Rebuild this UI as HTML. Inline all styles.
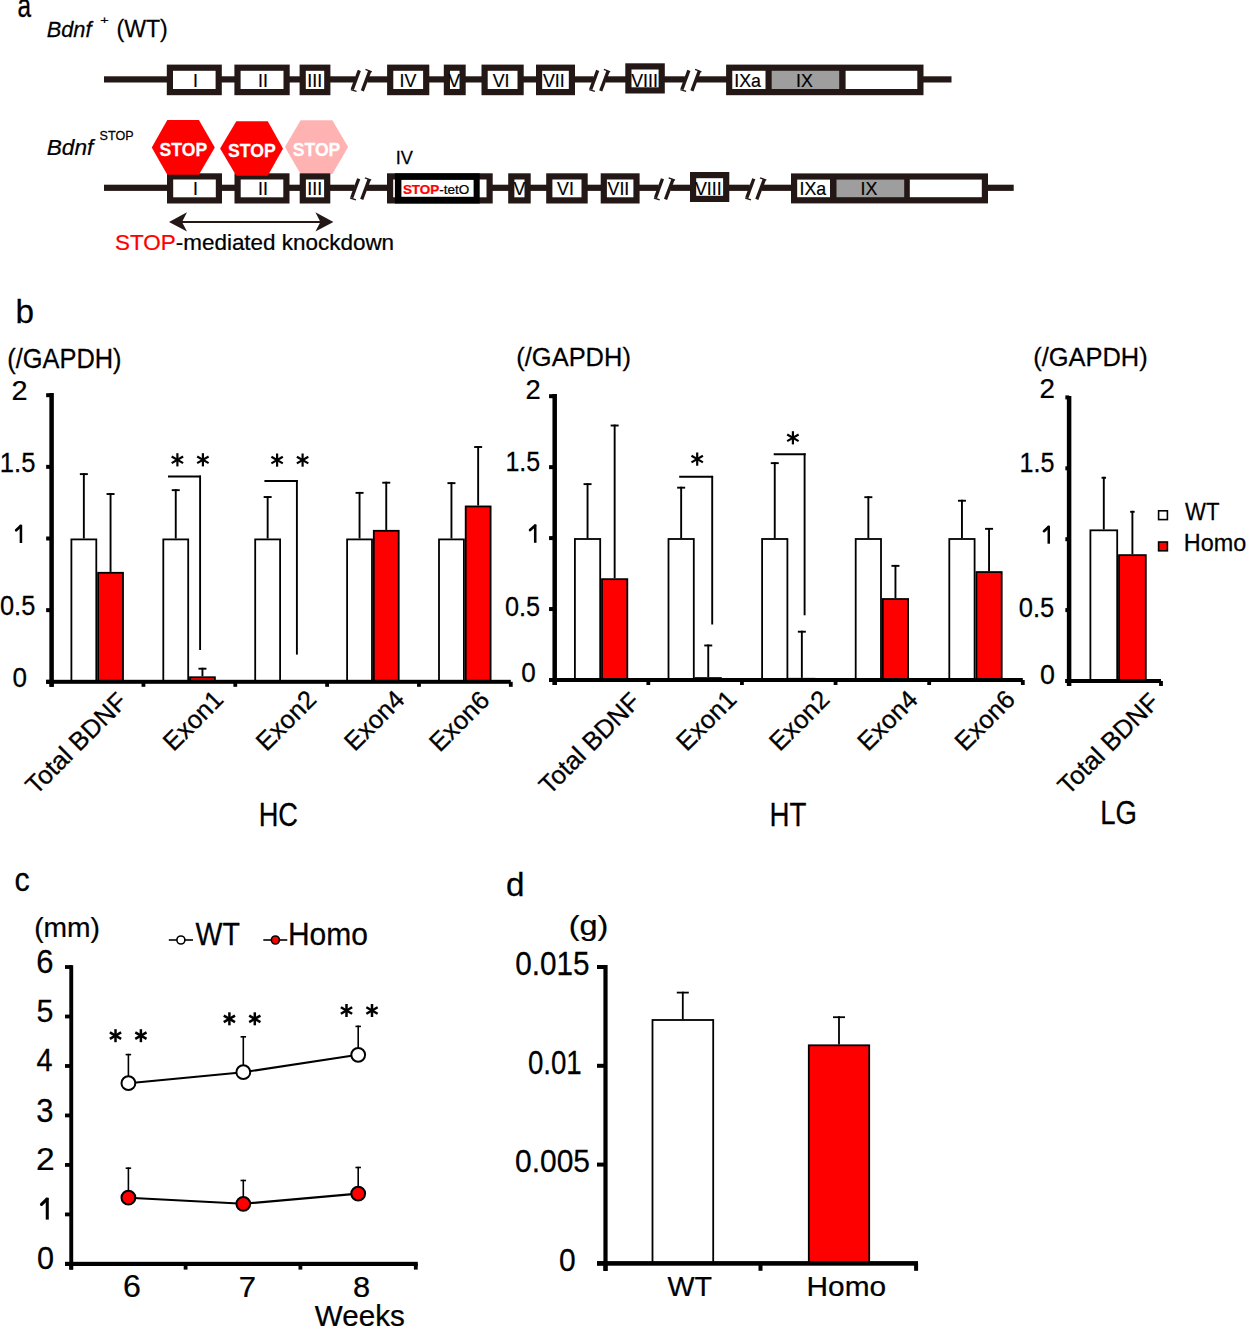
<!DOCTYPE html>
<html><head><meta charset="utf-8"><style>
html,body{margin:0;padding:0;background:#fff;}
svg{display:block;}
text{font-family:'Liberation Sans', sans-serif;}
</style></head><body>
<svg width="1246" height="1326" viewBox="0 0 1246 1326">
<rect width="1246" height="1326" fill="#fff"/>
<rect x="104" y="76.3" width="251.3" height="6.2" fill="#231815"/>
<rect x="367.3" y="76.3" width="226.4" height="6.2" fill="#231815"/>
<rect x="605.7" y="76.3" width="79.2" height="6.2" fill="#231815"/>
<rect x="696.9" y="76.3" width="254.6" height="6.2" fill="#231815"/>
<line x1="352.3" y1="89.4" x2="359.3" y2="70.4" stroke="#231815" stroke-width="3.3" stroke-linecap="butt"/>
<line x1="350.8" y1="89.6" x2="356.5" y2="91.4" stroke="#231815" stroke-width="1.4" stroke-linecap="butt"/>
<line x1="362.3" y1="90.9" x2="369.8" y2="70.9" stroke="#231815" stroke-width="3.3" stroke-linecap="butt"/>
<line x1="365.5" y1="69.4" x2="371.8" y2="71.8" stroke="#231815" stroke-width="1.4" stroke-linecap="butt"/>
<line x1="590.7" y1="89.4" x2="597.7" y2="70.4" stroke="#231815" stroke-width="3.3" stroke-linecap="butt"/>
<line x1="589.2" y1="89.6" x2="594.9" y2="91.4" stroke="#231815" stroke-width="1.4" stroke-linecap="butt"/>
<line x1="600.7" y1="90.9" x2="608.2" y2="70.9" stroke="#231815" stroke-width="3.3" stroke-linecap="butt"/>
<line x1="603.9" y1="69.4" x2="610.2" y2="71.8" stroke="#231815" stroke-width="1.4" stroke-linecap="butt"/>
<line x1="681.9" y1="89.4" x2="688.9" y2="70.4" stroke="#231815" stroke-width="3.3" stroke-linecap="butt"/>
<line x1="680.4" y1="89.6" x2="686.1" y2="91.4" stroke="#231815" stroke-width="1.4" stroke-linecap="butt"/>
<line x1="691.9" y1="90.9" x2="699.4" y2="70.9" stroke="#231815" stroke-width="3.3" stroke-linecap="butt"/>
<line x1="695.1" y1="69.4" x2="701.4" y2="71.8" stroke="#231815" stroke-width="1.4" stroke-linecap="butt"/>
<rect x="166.8" y="64.6" width="55" height="30.6" fill="#231815"/>
<rect x="173" y="70.8" width="42.6" height="18.2" fill="#fff"/>
<rect x="234.4" y="64.6" width="55.3" height="30.6" fill="#231815"/>
<rect x="240.6" y="70.8" width="42.9" height="18.2" fill="#fff"/>
<rect x="299.6" y="64.6" width="30.8" height="30.6" fill="#231815"/>
<rect x="305.8" y="70.8" width="18.4" height="18.2" fill="#fff"/>
<rect x="387.1" y="64.6" width="42.2" height="30.6" fill="#231815"/>
<rect x="393.3" y="70.8" width="29.8" height="18.2" fill="#fff"/>
<rect x="443.8" y="64.6" width="21.9" height="30.6" fill="#231815"/>
<rect x="450" y="70.8" width="9.5" height="18.2" fill="#fff"/>
<rect x="481.5" y="64.6" width="42.2" height="30.6" fill="#231815"/>
<rect x="487.7" y="70.8" width="29.8" height="18.2" fill="#fff"/>
<rect x="536" y="64.6" width="39" height="30.6" fill="#231815"/>
<rect x="542.2" y="70.8" width="26.6" height="18.2" fill="#fff"/>
<rect x="625.3" y="63.3" width="39.5" height="30.2" fill="#231815"/>
<rect x="631.5" y="69.5" width="27.1" height="17.8" fill="#fff"/>
<rect x="726.1" y="64.6" width="197.4" height="30.6" fill="#231815"/>
<rect x="732.3" y="70.8" width="33.2" height="18.2" fill="#fff"/>
<rect x="771.7" y="70.8" width="67.5" height="18.2" fill="#9e9e9e"/>
<rect x="845.6" y="70.8" width="71.7" height="18.2" fill="#fff"/>
<text x="195.4" y="86.6" font-size="17.8" text-anchor="middle" fill="#000" font-weight="normal" font-style="normal" stroke="#000" stroke-width="0.2">I</text>
<text x="263" y="86.6" font-size="17.8" text-anchor="middle" fill="#000" font-weight="normal" font-style="normal" stroke="#000" stroke-width="0.2">II</text>
<text x="314.7" y="86.6" font-size="17.8" text-anchor="middle" fill="#000" font-weight="normal" font-style="normal" stroke="#000" stroke-width="0.2">III</text>
<text x="407.9" y="86.6" font-size="17.8" text-anchor="middle" fill="#000" font-weight="normal" font-style="normal" stroke="#000" stroke-width="0.2">IV</text>
<text x="454.2" y="86.6" font-size="17.8" text-anchor="middle" fill="#000" font-weight="normal" font-style="normal" stroke="#000" stroke-width="0.2">V</text>
<text x="501.1" y="86.6" font-size="17.8" text-anchor="middle" fill="#000" font-weight="normal" font-style="normal" stroke="#000" stroke-width="0.2">VI</text>
<text x="553.8" y="86.6" font-size="17.8" text-anchor="middle" fill="#000" font-weight="normal" font-style="normal" stroke="#000" stroke-width="0.2">VII</text>
<text x="644.5" y="86.6" font-size="17.8" text-anchor="middle" fill="#000" font-weight="normal" font-style="normal" stroke="#000" stroke-width="0.2">VIII</text>
<text x="747.6" y="86.6" font-size="17.8" text-anchor="middle" fill="#000" font-weight="normal" font-style="normal" stroke="#000" stroke-width="0.2">IXa</text>
<text x="804.4" y="86.6" font-size="17.8" text-anchor="middle" fill="#000" font-weight="normal" font-style="normal" stroke="#000" stroke-width="0.2">IX</text>
<rect x="104" y="184.7" width="250.7" height="6.2" fill="#231815"/>
<rect x="366.7" y="184.7" width="291.8" height="6.2" fill="#231815"/>
<rect x="670.5" y="184.7" width="79.3" height="6.2" fill="#231815"/>
<rect x="761.8" y="184.7" width="251.9" height="6.2" fill="#231815"/>
<line x1="351.7" y1="197.8" x2="358.7" y2="178.8" stroke="#231815" stroke-width="3.3" stroke-linecap="butt"/>
<line x1="350.2" y1="198" x2="355.9" y2="199.8" stroke="#231815" stroke-width="1.4" stroke-linecap="butt"/>
<line x1="361.7" y1="199.3" x2="369.2" y2="179.3" stroke="#231815" stroke-width="3.3" stroke-linecap="butt"/>
<line x1="364.9" y1="177.8" x2="371.2" y2="180.2" stroke="#231815" stroke-width="1.4" stroke-linecap="butt"/>
<line x1="655.5" y1="197.8" x2="662.5" y2="178.8" stroke="#231815" stroke-width="3.3" stroke-linecap="butt"/>
<line x1="654" y1="198" x2="659.7" y2="199.8" stroke="#231815" stroke-width="1.4" stroke-linecap="butt"/>
<line x1="665.5" y1="199.3" x2="673" y2="179.3" stroke="#231815" stroke-width="3.3" stroke-linecap="butt"/>
<line x1="668.7" y1="177.8" x2="675" y2="180.2" stroke="#231815" stroke-width="1.4" stroke-linecap="butt"/>
<line x1="746.8" y1="197.8" x2="753.8" y2="178.8" stroke="#231815" stroke-width="3.3" stroke-linecap="butt"/>
<line x1="745.3" y1="198" x2="751" y2="199.8" stroke="#231815" stroke-width="1.4" stroke-linecap="butt"/>
<line x1="756.8" y1="199.3" x2="764.3" y2="179.3" stroke="#231815" stroke-width="3.3" stroke-linecap="butt"/>
<line x1="760" y1="177.8" x2="766.3" y2="180.2" stroke="#231815" stroke-width="1.4" stroke-linecap="butt"/>
<rect x="167" y="173.3" width="55" height="30.2" fill="#231815"/>
<rect x="173.2" y="179.5" width="42.6" height="17.8" fill="#fff"/>
<rect x="234.5" y="173.3" width="55" height="30.2" fill="#231815"/>
<rect x="240.7" y="179.5" width="42.6" height="17.8" fill="#fff"/>
<rect x="299.7" y="173.3" width="30.6" height="30.2" fill="#231815"/>
<rect x="305.9" y="179.5" width="18.2" height="17.8" fill="#fff"/>
<rect x="508.2" y="173.3" width="22.5" height="30.2" fill="#231815"/>
<rect x="514.4" y="179.5" width="10.1" height="17.8" fill="#fff"/>
<rect x="546.2" y="173.3" width="41.5" height="30.2" fill="#231815"/>
<rect x="552.4" y="179.5" width="29.1" height="17.8" fill="#fff"/>
<rect x="600.7" y="173.3" width="38.9" height="30.2" fill="#231815"/>
<rect x="606.9" y="179.5" width="26.5" height="17.8" fill="#fff"/>
<rect x="690" y="172" width="39.3" height="30" fill="#231815"/>
<rect x="696.2" y="178.2" width="26.9" height="17.6" fill="#fff"/>
<rect x="791" y="173.4" width="197" height="30" fill="#231815"/>
<rect x="797.2" y="179.6" width="32.8" height="17.6" fill="#fff"/>
<rect x="836.5" y="179.6" width="67.7" height="17.6" fill="#9e9e9e"/>
<rect x="909.8" y="179.6" width="72" height="17.6" fill="#fff"/>
<text x="195.4" y="195.1" font-size="17.8" text-anchor="middle" fill="#000" font-weight="normal" font-style="normal" stroke="#000" stroke-width="0.2">I</text>
<text x="263" y="195.1" font-size="17.8" text-anchor="middle" fill="#000" font-weight="normal" font-style="normal" stroke="#000" stroke-width="0.2">II</text>
<text x="314.7" y="195.1" font-size="17.8" text-anchor="middle" fill="#000" font-weight="normal" font-style="normal" stroke="#000" stroke-width="0.2">III</text>
<text x="519.5" y="195.1" font-size="17.8" text-anchor="middle" fill="#000" font-weight="normal" font-style="normal" stroke="#000" stroke-width="0.2">V</text>
<text x="565.5" y="195.1" font-size="17.8" text-anchor="middle" fill="#000" font-weight="normal" font-style="normal" stroke="#000" stroke-width="0.2">VI</text>
<text x="618.4" y="195.1" font-size="17.8" text-anchor="middle" fill="#000" font-weight="normal" font-style="normal" stroke="#000" stroke-width="0.2">VII</text>
<text x="708.3" y="195.1" font-size="17.8" text-anchor="middle" fill="#000" font-weight="normal" font-style="normal" stroke="#000" stroke-width="0.2">VIII</text>
<text x="812.8" y="195.1" font-size="17.8" text-anchor="middle" fill="#000" font-weight="normal" font-style="normal" stroke="#000" stroke-width="0.2">IXa</text>
<text x="869" y="195.1" font-size="17.8" text-anchor="middle" fill="#000" font-weight="normal" font-style="normal" stroke="#000" stroke-width="0.2">IX</text>
<rect x="387" y="173.3" width="105.7" height="30.2" fill="#231815"/>
<rect x="393.2" y="179.5" width="93.3" height="17.8" fill="#fff"/>
<rect x="394.9" y="173.3" width="84.8" height="30.2" fill="#000"/>
<rect x="401.4" y="179.9" width="72.2" height="16.9" fill="#fff"/>
<text x="0" y="0" font-size="60" fill="#000" stroke="#000" stroke-width="1.139" font-weight="normal" font-style="normal" transform="matrix(0.2250 0 0 0.2140 402.88 194.19)"><tspan fill="#ff0000" stroke="#ff0000" font-weight="bold">STOP</tspan>-tetO</text>
<text x="0" y="0" font-size="60" fill="#000" stroke="#000" stroke-width="0.818" font-weight="normal" font-style="normal" transform="matrix(0.3040 0 0 0.3073 395.68 163.80)">IV</text>
<polygon points="167.3,120.1 198.9,120.1 214.8,147.4 198.9,174.7 167.3,174.7 151.75,147.4" fill="#ff0000" fill-opacity="1"/>
<polygon points="236.3,121.2 267.8,121.2 283,148.4 267.8,175.7 236.3,175.7 220.1,148.4" fill="#ff0000" fill-opacity="1"/>
<polygon points="300.6,120.3 332.4,120.3 348.1,147.1 332.4,174 300.6,174 284.9,147.1" fill="#ff0000" fill-opacity="0.3"/>
<text x="0" y="0" font-size="60" fill="#fff" stroke="#fff" stroke-width="0.820" font-weight="bold" font-style="normal" transform="matrix(0.2930 0 0 0.3171 159.61 155.80)">STOP</text>
<text x="0" y="0" font-size="60" fill="#fff" stroke="#fff" stroke-width="0.842" font-weight="bold" font-style="normal" transform="matrix(0.2937 0 0 0.3000 228.11 156.60)">STOP</text>
<text x="0" y="0" font-size="60" fill="#fff" stroke="#fff" stroke-width="0.843" font-weight="bold" font-style="normal" transform="matrix(0.2930 0 0 0.3000 292.81 155.80)">STOP</text>
<line x1="180" y1="221.9" x2="322" y2="221.9" stroke="#231815" stroke-width="2" stroke-linecap="butt"/>
<path d="M169,221.9 L187,212.2 L182,221.9 L187,231.5 Z" fill="#231815"/>
<path d="M333.4,221.9 L315.4,212.2 L320.4,221.9 L315.4,231.5 Z" fill="#231815"/>
<text x="0" y="0" font-size="60" fill="#000" stroke="#000" stroke-width="0.680" font-weight="normal" font-style="normal" transform="matrix(0.3743 0 0 0.3614 115.05 250.24)"><tspan fill="#ff0000" stroke="#ff0000">STOP</tspan>-mediated knockdown</text>
<text x="0" y="0" font-size="60" fill="#000" stroke="#000" stroke-width="0.525" font-weight="normal" font-style="normal" transform="matrix(0.4067 0 0 0.5452 17.48 16.70)">a</text>
<text x="0" y="0" font-size="60" fill="#000" stroke="#000" stroke-width="0.687" font-weight="normal" font-style="italic" transform="matrix(0.3627 0 0 0.3651 46.67 36.60)">Bdnf</text>
<text x="0" y="0" font-size="60" fill="#000" stroke="#000" stroke-width="1.151" font-weight="normal" font-style="normal" transform="matrix(0.2414 0 0 0.1931 100.28 24.27)">+</text>
<text x="0" y="0" font-size="60" fill="#000" stroke="#000" stroke-width="0.642" font-weight="normal" font-style="normal" transform="matrix(0.3848 0 0 0.3945 116.46 36.97)">(WT)</text>
<text x="0" y="0" font-size="60" fill="#000" stroke="#000" stroke-width="0.663" font-weight="normal" font-style="italic" transform="matrix(0.3770 0 0 0.3767 46.75 155.10)">Bdnf</text>
<text x="0" y="0" font-size="60" fill="#000" stroke="#000" stroke-width="1.165" font-weight="normal" font-style="normal" transform="matrix(0.2096 0 0 0.2195 99.57 139.50)">STOP</text>
<line x1="83.85" y1="473.16" x2="83.85" y2="538.5" stroke="#000" stroke-width="1.9" stroke-linecap="butt"/>
<line x1="79.85" y1="474.11" x2="87.85" y2="474.11" stroke="#000" stroke-width="1.9" stroke-linecap="butt"/>
<line x1="110.55" y1="493.07" x2="110.55" y2="571.89" stroke="#000" stroke-width="1.9" stroke-linecap="butt"/>
<line x1="106.55" y1="494.02" x2="114.55" y2="494.02" stroke="#000" stroke-width="1.9" stroke-linecap="butt"/>
<rect x="71.4" y="539.4" width="24.9" height="142.4" fill="#fff" stroke="#000" stroke-width="1.8"/>
<rect x="98.1" y="572.79" width="24.9" height="109.01" fill="#ff0000" stroke="#000" stroke-width="1.8"/>
<line x1="175.75" y1="489.2" x2="175.75" y2="538.5" stroke="#000" stroke-width="1.9" stroke-linecap="butt"/>
<line x1="171.75" y1="490.15" x2="179.75" y2="490.15" stroke="#000" stroke-width="1.9" stroke-linecap="butt"/>
<line x1="202.45" y1="667.76" x2="202.45" y2="676.35" stroke="#000" stroke-width="1.9" stroke-linecap="butt"/>
<line x1="198.45" y1="668.71" x2="206.45" y2="668.71" stroke="#000" stroke-width="1.9" stroke-linecap="butt"/>
<rect x="163.3" y="539.4" width="24.9" height="142.4" fill="#fff" stroke="#000" stroke-width="1.8"/>
<rect x="190" y="677.25" width="24.9" height="4.55" fill="#ff0000" stroke="#000" stroke-width="1.8"/>
<line x1="267.65" y1="496.08" x2="267.65" y2="538.5" stroke="#000" stroke-width="1.9" stroke-linecap="butt"/>
<line x1="263.65" y1="497.03" x2="271.65" y2="497.03" stroke="#000" stroke-width="1.9" stroke-linecap="butt"/>
<rect x="255.2" y="539.4" width="24.9" height="142.4" fill="#fff" stroke="#000" stroke-width="1.8"/>
<line x1="359.55" y1="491.93" x2="359.55" y2="538.5" stroke="#000" stroke-width="1.9" stroke-linecap="butt"/>
<line x1="355.55" y1="492.88" x2="363.55" y2="492.88" stroke="#000" stroke-width="1.9" stroke-linecap="butt"/>
<line x1="386.25" y1="481.75" x2="386.25" y2="529.9" stroke="#000" stroke-width="1.9" stroke-linecap="butt"/>
<line x1="382.25" y1="482.7" x2="390.25" y2="482.7" stroke="#000" stroke-width="1.9" stroke-linecap="butt"/>
<rect x="347.1" y="539.4" width="24.9" height="142.4" fill="#fff" stroke="#000" stroke-width="1.8"/>
<rect x="373.8" y="530.8" width="24.9" height="151" fill="#ff0000" stroke="#000" stroke-width="1.8"/>
<line x1="451.45" y1="482.18" x2="451.45" y2="538.5" stroke="#000" stroke-width="1.9" stroke-linecap="butt"/>
<line x1="447.45" y1="483.13" x2="455.45" y2="483.13" stroke="#000" stroke-width="1.9" stroke-linecap="butt"/>
<line x1="478.15" y1="446.07" x2="478.15" y2="505.54" stroke="#000" stroke-width="1.9" stroke-linecap="butt"/>
<line x1="474.15" y1="447.02" x2="482.15" y2="447.02" stroke="#000" stroke-width="1.9" stroke-linecap="butt"/>
<rect x="439" y="539.4" width="24.9" height="142.4" fill="#fff" stroke="#000" stroke-width="1.8"/>
<rect x="465.7" y="506.44" width="24.9" height="175.36" fill="#ff0000" stroke="#000" stroke-width="1.8"/>
<rect x="49.35" y="393" width="4.5" height="293.8" fill="#000"/>
<rect x="46.15" y="679.8" width="5.45" height="4" fill="#000"/>
<rect x="46.15" y="608.15" width="5.45" height="4" fill="#000"/>
<rect x="46.15" y="536.5" width="5.45" height="4" fill="#000"/>
<rect x="46.15" y="464.85" width="5.45" height="4" fill="#000"/>
<rect x="46.15" y="393.2" width="5.45" height="4" fill="#000"/>
<rect x="46.15" y="679.8" width="464.65" height="4" fill="#000"/>
<rect x="49.7" y="681.8" width="3.8" height="5" fill="#000"/>
<rect x="141.54" y="681.8" width="3.8" height="5" fill="#000"/>
<rect x="233.38" y="681.8" width="3.8" height="5" fill="#000"/>
<rect x="325.22" y="681.8" width="3.8" height="5" fill="#000"/>
<rect x="417.06" y="681.8" width="3.8" height="5" fill="#000"/>
<rect x="508.9" y="681.8" width="3.8" height="5" fill="#000"/>
<line x1="168" y1="476.5" x2="201" y2="476.5" stroke="#000" stroke-width="1.9" stroke-linecap="butt"/>
<line x1="200.1" y1="475.6" x2="200.1" y2="650" stroke="#000" stroke-width="1.9" stroke-linecap="butt"/>
<line x1="264.4" y1="481" x2="297.8" y2="481" stroke="#000" stroke-width="1.9" stroke-linecap="butt"/>
<line x1="296.9" y1="480.1" x2="296.9" y2="654.6" stroke="#000" stroke-width="1.9" stroke-linecap="butt"/>
<line x1="177.4" y1="453.2" x2="177.4" y2="466.4" stroke="#000" stroke-width="2.2" stroke-linecap="butt"/>
<line x1="171.68" y1="456.5" x2="183.12" y2="463.1" stroke="#000" stroke-width="2.2" stroke-linecap="butt"/>
<line x1="171.68" y1="463.1" x2="183.12" y2="456.5" stroke="#000" stroke-width="2.2" stroke-linecap="butt"/>
<line x1="202.9" y1="453.2" x2="202.9" y2="466.4" stroke="#000" stroke-width="2.2" stroke-linecap="butt"/>
<line x1="197.18" y1="456.5" x2="208.62" y2="463.1" stroke="#000" stroke-width="2.2" stroke-linecap="butt"/>
<line x1="197.18" y1="463.1" x2="208.62" y2="456.5" stroke="#000" stroke-width="2.2" stroke-linecap="butt"/>
<line x1="277.1" y1="453.5" x2="277.1" y2="466.7" stroke="#000" stroke-width="2.2" stroke-linecap="butt"/>
<line x1="271.38" y1="456.8" x2="282.82" y2="463.4" stroke="#000" stroke-width="2.2" stroke-linecap="butt"/>
<line x1="271.38" y1="463.4" x2="282.82" y2="456.8" stroke="#000" stroke-width="2.2" stroke-linecap="butt"/>
<line x1="302.6" y1="453.5" x2="302.6" y2="466.7" stroke="#000" stroke-width="2.2" stroke-linecap="butt"/>
<line x1="296.88" y1="456.8" x2="308.32" y2="463.4" stroke="#000" stroke-width="2.2" stroke-linecap="butt"/>
<line x1="296.88" y1="463.4" x2="308.32" y2="456.8" stroke="#000" stroke-width="2.2" stroke-linecap="butt"/>
<line x1="587.55" y1="483.18" x2="587.55" y2="538.1" stroke="#000" stroke-width="1.9" stroke-linecap="butt"/>
<line x1="583.55" y1="484.13" x2="591.55" y2="484.13" stroke="#000" stroke-width="1.9" stroke-linecap="butt"/>
<line x1="614.65" y1="424.58" x2="614.65" y2="578.26" stroke="#000" stroke-width="1.9" stroke-linecap="butt"/>
<line x1="610.65" y1="425.53" x2="618.65" y2="425.53" stroke="#000" stroke-width="1.9" stroke-linecap="butt"/>
<rect x="574.9" y="539" width="25.3" height="141" fill="#fff" stroke="#000" stroke-width="1.8"/>
<rect x="602" y="579.16" width="25.3" height="100.84" fill="#ff0000" stroke="#000" stroke-width="1.8"/>
<line x1="681.15" y1="486.73" x2="681.15" y2="538.1" stroke="#000" stroke-width="1.9" stroke-linecap="butt"/>
<line x1="677.15" y1="487.68" x2="685.15" y2="487.68" stroke="#000" stroke-width="1.9" stroke-linecap="butt"/>
<line x1="708.25" y1="644.52" x2="708.25" y2="677.16" stroke="#000" stroke-width="1.9" stroke-linecap="butt"/>
<line x1="704.25" y1="645.48" x2="712.25" y2="645.48" stroke="#000" stroke-width="1.9" stroke-linecap="butt"/>
<rect x="668.5" y="539" width="25.3" height="141" fill="#fff" stroke="#000" stroke-width="1.8"/>
<rect x="695.6" y="678.06" width="25.3" height="1.94" fill="#ff0000" stroke="#000" stroke-width="1.8"/>
<line x1="774.75" y1="462.18" x2="774.75" y2="538.1" stroke="#000" stroke-width="1.9" stroke-linecap="butt"/>
<line x1="770.75" y1="463.13" x2="778.75" y2="463.13" stroke="#000" stroke-width="1.9" stroke-linecap="butt"/>
<line x1="801.85" y1="630.76" x2="801.85" y2="677.87" stroke="#000" stroke-width="1.9" stroke-linecap="butt"/>
<line x1="797.85" y1="631.71" x2="805.85" y2="631.71" stroke="#000" stroke-width="1.9" stroke-linecap="butt"/>
<rect x="762.1" y="539" width="25.3" height="141" fill="#fff" stroke="#000" stroke-width="1.8"/>
<rect x="789.2" y="678.77" width="25.3" height="1.23" fill="#ff0000" stroke="#000" stroke-width="1.8"/>
<line x1="868.35" y1="496.24" x2="868.35" y2="538.1" stroke="#000" stroke-width="1.9" stroke-linecap="butt"/>
<line x1="864.35" y1="497.19" x2="872.35" y2="497.19" stroke="#000" stroke-width="1.9" stroke-linecap="butt"/>
<line x1="895.45" y1="564.92" x2="895.45" y2="598.12" stroke="#000" stroke-width="1.9" stroke-linecap="butt"/>
<line x1="891.45" y1="565.87" x2="899.45" y2="565.87" stroke="#000" stroke-width="1.9" stroke-linecap="butt"/>
<rect x="855.7" y="539" width="25.3" height="141" fill="#fff" stroke="#000" stroke-width="1.8"/>
<rect x="882.8" y="599.02" width="25.3" height="80.98" fill="#ff0000" stroke="#000" stroke-width="1.8"/>
<line x1="961.95" y1="499.79" x2="961.95" y2="538.1" stroke="#000" stroke-width="1.9" stroke-linecap="butt"/>
<line x1="957.95" y1="500.74" x2="965.95" y2="500.74" stroke="#000" stroke-width="1.9" stroke-linecap="butt"/>
<line x1="989.05" y1="527.88" x2="989.05" y2="571.16" stroke="#000" stroke-width="1.9" stroke-linecap="butt"/>
<line x1="985.05" y1="528.83" x2="993.05" y2="528.83" stroke="#000" stroke-width="1.9" stroke-linecap="butt"/>
<rect x="949.3" y="539" width="25.3" height="141" fill="#fff" stroke="#000" stroke-width="1.8"/>
<rect x="976.4" y="572.06" width="25.3" height="107.94" fill="#ff0000" stroke="#000" stroke-width="1.8"/>
<rect x="552.45" y="394" width="4.5" height="291" fill="#000"/>
<rect x="549.05" y="678" width="5.65" height="4" fill="#000"/>
<rect x="549.05" y="607.05" width="5.65" height="4" fill="#000"/>
<rect x="549.05" y="536.1" width="5.65" height="4" fill="#000"/>
<rect x="549.05" y="465.15" width="5.65" height="4" fill="#000"/>
<rect x="549.05" y="394.2" width="5.65" height="4" fill="#000"/>
<rect x="549.05" y="678" width="473.75" height="4" fill="#000"/>
<rect x="552.8" y="680" width="3.8" height="5" fill="#000"/>
<rect x="646.42" y="680" width="3.8" height="5" fill="#000"/>
<rect x="740.04" y="680" width="3.8" height="5" fill="#000"/>
<rect x="833.66" y="680" width="3.8" height="5" fill="#000"/>
<rect x="927.28" y="680" width="3.8" height="5" fill="#000"/>
<rect x="1020.9" y="680" width="3.8" height="5" fill="#000"/>
<line x1="679.2" y1="476.8" x2="713.1" y2="476.8" stroke="#000" stroke-width="1.9" stroke-linecap="butt"/>
<line x1="712.2" y1="475.9" x2="712.2" y2="624.5" stroke="#000" stroke-width="1.9" stroke-linecap="butt"/>
<line x1="773.7" y1="454.2" x2="805.6" y2="454.2" stroke="#000" stroke-width="1.9" stroke-linecap="butt"/>
<line x1="804.6" y1="453.3" x2="804.6" y2="615.3" stroke="#000" stroke-width="1.9" stroke-linecap="butt"/>
<line x1="697.2" y1="452.5" x2="697.2" y2="465.7" stroke="#000" stroke-width="2.2" stroke-linecap="butt"/>
<line x1="691.48" y1="455.8" x2="702.92" y2="462.4" stroke="#000" stroke-width="2.2" stroke-linecap="butt"/>
<line x1="691.48" y1="462.4" x2="702.92" y2="455.8" stroke="#000" stroke-width="2.2" stroke-linecap="butt"/>
<line x1="792.9" y1="431.2" x2="792.9" y2="444.4" stroke="#000" stroke-width="2.2" stroke-linecap="butt"/>
<line x1="787.18" y1="434.5" x2="798.62" y2="441.1" stroke="#000" stroke-width="2.2" stroke-linecap="butt"/>
<line x1="787.18" y1="441.1" x2="798.62" y2="434.5" stroke="#000" stroke-width="2.2" stroke-linecap="butt"/>
<line x1="1103.8" y1="476.81" x2="1103.8" y2="529.42" stroke="#000" stroke-width="1.9" stroke-linecap="butt"/>
<line x1="1101.55" y1="477.76" x2="1106.05" y2="477.76" stroke="#000" stroke-width="1.9" stroke-linecap="butt"/>
<line x1="1132.4" y1="510.84" x2="1132.4" y2="554.23" stroke="#000" stroke-width="1.9" stroke-linecap="butt"/>
<line x1="1130.15" y1="511.79" x2="1134.65" y2="511.79" stroke="#000" stroke-width="1.9" stroke-linecap="butt"/>
<rect x="1090.4" y="530.32" width="26.8" height="150.68" fill="#fff" stroke="#000" stroke-width="1.8"/>
<rect x="1119" y="555.13" width="26.8" height="125.87" fill="#ff0000" stroke="#000" stroke-width="1.8"/>
<rect x="1066.85" y="396" width="4.5" height="290" fill="#000"/>
<rect x="1065.35" y="679" width="3.75" height="4" fill="#000"/>
<rect x="1065.35" y="608.1" width="3.75" height="4" fill="#000"/>
<rect x="1065.35" y="537.2" width="3.75" height="4" fill="#000"/>
<rect x="1065.35" y="466.3" width="3.75" height="4" fill="#000"/>
<rect x="1065.35" y="395.4" width="3.75" height="4" fill="#000"/>
<rect x="1065.35" y="679" width="95.65" height="4" fill="#000"/>
<rect x="1067.2" y="681" width="3.8" height="5" fill="#000"/>
<rect x="1159.1" y="681" width="3.8" height="5" fill="#000"/>
<text x="0" y="0" font-size="60" fill="#000" stroke="#000" stroke-width="0.535" font-weight="normal" font-style="normal" transform="matrix(0.4815 0 0 0.4537 11.56 399.90)">2</text>
<text x="0" y="0" font-size="60" fill="#000" stroke="#000" stroke-width="0.564" font-weight="normal" font-style="normal" transform="matrix(0.4276 0 0 0.4585 -0.24 471.80)">1.5</text>
<line x1="20.93" y1="524.8" x2="20.93" y2="543" stroke="#000" stroke-width="2.55"/>
<line x1="20.67" y1="525.95" x2="16.17" y2="530.26" stroke="#000" stroke-width="2.68" stroke-linecap="round"/>
<text x="0" y="0" font-size="60" fill="#000" stroke="#000" stroke-width="0.567" font-weight="normal" font-style="normal" transform="matrix(0.4241 0 0 0.4585 -0.05 615.20)">0.5</text>
<text x="0" y="0" font-size="60" fill="#000" stroke="#000" stroke-width="0.560" font-weight="normal" font-style="normal" transform="matrix(0.4345 0 0 0.4585 12.53 686.80)">0</text>
<text x="0" y="0" font-size="60" fill="#000" stroke="#000" stroke-width="0.551" font-weight="normal" font-style="normal" transform="matrix(0.4556 0 0 0.4512 525.53 398.60)">2</text>
<text x="0" y="0" font-size="60" fill="#000" stroke="#000" stroke-width="0.571" font-weight="normal" font-style="normal" transform="matrix(0.4171 0 0 0.4585 505.41 470.80)">1.5</text>
<line x1="535.22" y1="524.5" x2="535.22" y2="542.8" stroke="#000" stroke-width="2.56"/>
<line x1="534.96" y1="525.65" x2="530.08" y2="529.99" stroke="#000" stroke-width="2.69" stroke-linecap="round"/>
<text x="0" y="0" font-size="60" fill="#000" stroke="#000" stroke-width="0.571" font-weight="normal" font-style="normal" transform="matrix(0.4215 0 0 0.4537 504.96 616.20)">0.5</text>
<text x="0" y="0" font-size="60" fill="#000" stroke="#000" stroke-width="0.563" font-weight="normal" font-style="normal" transform="matrix(0.4345 0 0 0.4537 521.13 682.20)">0</text>
<text x="0" y="0" font-size="60" fill="#000" stroke="#000" stroke-width="0.545" font-weight="normal" font-style="normal" transform="matrix(0.4630 0 0 0.4537 1039.51 397.60)">2</text>
<text x="0" y="0" font-size="60" fill="#000" stroke="#000" stroke-width="0.572" font-weight="normal" font-style="normal" transform="matrix(0.4197 0 0 0.4537 1019.40 471.60)">1.5</text>
<line x1="1048.75" y1="525.8" x2="1048.75" y2="543.7" stroke="#000" stroke-width="2.51"/>
<line x1="1048.5" y1="526.93" x2="1043.95" y2="531.17" stroke="#000" stroke-width="2.63" stroke-linecap="round"/>
<text x="0" y="0" font-size="60" fill="#000" stroke="#000" stroke-width="0.568" font-weight="normal" font-style="normal" transform="matrix(0.4266 0 0 0.4537 1018.75 617.40)">0.5</text>
<text x="0" y="0" font-size="60" fill="#000" stroke="#000" stroke-width="0.554" font-weight="normal" font-style="normal" transform="matrix(0.4483 0 0 0.4537 1039.90 684.10)">0</text>
<text x="0" y="0" font-size="60" fill="#000" stroke="#000" stroke-width="0.574" font-weight="normal" font-style="normal" transform="matrix(0.4240 0 0 0.4473 7.20 367.53)">(/GAPDH)</text>
<text x="0" y="0" font-size="60" fill="#000" stroke="#000" stroke-width="0.577" font-weight="normal" font-style="normal" transform="matrix(0.4244 0 0 0.4418 516.30 365.80)">(/GAPDH)</text>
<text x="0" y="0" font-size="60" fill="#000" stroke="#000" stroke-width="0.577" font-weight="normal" font-style="normal" transform="matrix(0.4240 0 0 0.4418 1033.20 365.80)">(/GAPDH)</text>
<text x="0" y="0" font-size="60" fill="#000" stroke="#000" stroke-width="0.447" font-weight="normal" font-style="normal" transform="matrix(0.5556 0 0 0.5628 15.58 323.20)">b</text>
<rect x="1158.6" y="510.8" width="8.8" height="8.8" fill="#fff" stroke="#000" stroke-width="1.6"/>
<rect x="1158.6" y="542" width="8.8" height="8.8" fill="#ff0000" stroke="#000" stroke-width="1.6"/>
<text x="0" y="0" font-size="60" fill="#000" stroke="#000" stroke-width="0.655" font-weight="normal" font-style="normal" transform="matrix(0.3685 0 0 0.3951 1185.10 520.30)">WT</text>
<text x="0" y="0" font-size="60" fill="#000" stroke="#000" stroke-width="0.641" font-weight="normal" font-style="normal" transform="matrix(0.3902 0 0 0.3902 1183.85 550.90)">Homo</text>
<text x="0" y="0" font-size="25.6" text-anchor="end" stroke="#000" stroke-width="0.3" transform="translate(128.6,703.3) rotate(-45)">Total BDNF</text>
<text x="0" y="0" font-size="25.6" text-anchor="end" stroke="#000" stroke-width="0.3" transform="translate(224.9,701) rotate(-45)">Exon1</text>
<text x="0" y="0" font-size="25.6" text-anchor="end" stroke="#000" stroke-width="0.3" transform="translate(317.8,701) rotate(-45)">Exon2</text>
<text x="0" y="0" font-size="25.6" text-anchor="end" stroke="#000" stroke-width="0.3" transform="translate(406,701) rotate(-45)">Exon4</text>
<text x="0" y="0" font-size="25.6" text-anchor="end" stroke="#000" stroke-width="0.3" transform="translate(491,701.8) rotate(-45)">Exon6</text>
<text x="0" y="0" font-size="25.6" text-anchor="end" stroke="#000" stroke-width="0.3" transform="translate(641.9,703.3) rotate(-45)">Total BDNF</text>
<text x="0" y="0" font-size="25.6" text-anchor="end" stroke="#000" stroke-width="0.3" transform="translate(738,701) rotate(-45)">Exon1</text>
<text x="0" y="0" font-size="25.6" text-anchor="end" stroke="#000" stroke-width="0.3" transform="translate(831.1,701) rotate(-45)">Exon2</text>
<text x="0" y="0" font-size="25.6" text-anchor="end" stroke="#000" stroke-width="0.3" transform="translate(919.3,701) rotate(-45)">Exon4</text>
<text x="0" y="0" font-size="25.6" text-anchor="end" stroke="#000" stroke-width="0.3" transform="translate(1016.5,701) rotate(-45)">Exon6</text>
<text x="0" y="0" font-size="25.6" text-anchor="end" stroke="#000" stroke-width="0.3" transform="translate(1160.7,703.6) rotate(-45)">Total BDNF</text>
<text x="0" y="0" font-size="60" fill="#000" stroke="#000" stroke-width="0.495" font-weight="normal" font-style="normal" transform="matrix(0.4544 0 0 0.5561 258.63 825.60)">HC</text>
<text x="0" y="0" font-size="60" fill="#000" stroke="#000" stroke-width="0.490" font-weight="normal" font-style="normal" transform="matrix(0.4622 0 0 0.5585 769.49 825.90)">HT</text>
<text x="0" y="0" font-size="60" fill="#000" stroke="#000" stroke-width="0.493" font-weight="normal" font-style="normal" transform="matrix(0.4586 0 0 0.5561 1100.21 823.50)">LG</text>
<text x="0" y="0" font-size="60" fill="#000" stroke="#000" stroke-width="0.472" font-weight="normal" font-style="normal" transform="matrix(0.5080 0 0 0.5516 14.58 891.20)">c</text>
<text x="0" y="0" font-size="60" fill="#000" stroke="#000" stroke-width="0.543" font-weight="normal" font-style="normal" transform="matrix(0.4705 0 0 0.4509 34.22 937.09)">(mm)</text>
<line x1="128.4" y1="1053.8" x2="128.4" y2="1083.2" stroke="#000" stroke-width="1.6" stroke-linecap="butt"/>
<line x1="125.65" y1="1054.6" x2="131.15" y2="1054.6" stroke="#000" stroke-width="1.6" stroke-linecap="butt"/>
<line x1="128.4" y1="1167.4" x2="128.4" y2="1197.7" stroke="#000" stroke-width="1.6" stroke-linecap="butt"/>
<line x1="125.65" y1="1168.2" x2="131.15" y2="1168.2" stroke="#000" stroke-width="1.6" stroke-linecap="butt"/>
<line x1="243.3" y1="1036" x2="243.3" y2="1072.2" stroke="#000" stroke-width="1.6" stroke-linecap="butt"/>
<line x1="240.55" y1="1036.8" x2="246.05" y2="1036.8" stroke="#000" stroke-width="1.6" stroke-linecap="butt"/>
<line x1="243.3" y1="1179.7" x2="243.3" y2="1203.8" stroke="#000" stroke-width="1.6" stroke-linecap="butt"/>
<line x1="240.55" y1="1180.5" x2="246.05" y2="1180.5" stroke="#000" stroke-width="1.6" stroke-linecap="butt"/>
<line x1="358.2" y1="1025.6" x2="358.2" y2="1054.8" stroke="#000" stroke-width="1.6" stroke-linecap="butt"/>
<line x1="355.45" y1="1026.4" x2="360.95" y2="1026.4" stroke="#000" stroke-width="1.6" stroke-linecap="butt"/>
<line x1="358.2" y1="1166.7" x2="358.2" y2="1193.6" stroke="#000" stroke-width="1.6" stroke-linecap="butt"/>
<line x1="355.45" y1="1167.5" x2="360.95" y2="1167.5" stroke="#000" stroke-width="1.6" stroke-linecap="butt"/>
<polyline points="128.4,1083.2 243.3,1072.2 358.2,1054.8" fill="none" stroke="#000" stroke-width="2.1"/>
<polyline points="128.4,1197.7 243.3,1203.8 358.2,1193.6" fill="none" stroke="#000" stroke-width="2.1"/>
<circle cx="128.4" cy="1083.2" r="6.9" fill="#fff" stroke="#000" stroke-width="2"/>
<circle cx="128.4" cy="1197.7" r="6.9" fill="#ff0000" stroke="#000" stroke-width="2"/>
<circle cx="243.3" cy="1072.2" r="6.9" fill="#fff" stroke="#000" stroke-width="2"/>
<circle cx="243.3" cy="1203.8" r="6.9" fill="#ff0000" stroke="#000" stroke-width="2"/>
<circle cx="358.2" cy="1054.8" r="6.9" fill="#fff" stroke="#000" stroke-width="2"/>
<circle cx="358.2" cy="1193.6" r="6.9" fill="#ff0000" stroke="#000" stroke-width="2"/>
<rect x="69.3" y="965.2" width="3.9" height="304.4" fill="#000"/>
<rect x="65" y="1262" width="7" height="3.8" fill="#000"/>
<rect x="65" y="1212.52" width="7" height="3.8" fill="#000"/>
<rect x="65" y="1163.04" width="7" height="3.8" fill="#000"/>
<rect x="65" y="1113.56" width="7" height="3.8" fill="#000"/>
<rect x="65" y="1064.08" width="7" height="3.8" fill="#000"/>
<rect x="65" y="1014.6" width="7" height="3.8" fill="#000"/>
<rect x="65" y="965.12" width="7" height="3.8" fill="#000"/>
<rect x="65" y="1261.8" width="352.8" height="4.2" fill="#000"/>
<rect x="69.3" y="1263.9" width="3.8" height="5.7" fill="#000"/>
<rect x="183.7" y="1263.9" width="3.8" height="5.7" fill="#000"/>
<rect x="298.5" y="1263.9" width="3.8" height="5.7" fill="#000"/>
<rect x="413.9" y="1263.9" width="3.8" height="5.7" fill="#000"/>
<text x="0" y="0" font-size="60" fill="#000" stroke="#000" stroke-width="0.472" font-weight="normal" font-style="normal" transform="matrix(0.5179 0 0 0.5415 36.35 972.90)">6</text>
<text x="0" y="0" font-size="60" fill="#000" stroke="#000" stroke-width="0.479" font-weight="normal" font-style="normal" transform="matrix(0.5071 0 0 0.5366 36.38 1022.40)">5</text>
<text x="0" y="0" font-size="60" fill="#000" stroke="#000" stroke-width="0.497" font-weight="normal" font-style="normal" transform="matrix(0.4806 0 0 0.5244 36.62 1071.40)">4</text>
<text x="0" y="0" font-size="60" fill="#000" stroke="#000" stroke-width="0.470" font-weight="normal" font-style="normal" transform="matrix(0.5179 0 0 0.5463 36.35 1121.60)">3</text>
<text x="0" y="0" font-size="60" fill="#000" stroke="#000" stroke-width="0.466" font-weight="normal" font-style="normal" transform="matrix(0.5593 0 0 0.5146 35.92 1170.10)">2</text>
<line x1="47.27" y1="1197.8" x2="47.27" y2="1219.6" stroke="#000" stroke-width="3.05"/>
<line x1="46.97" y1="1199.17" x2="41.53" y2="1204.34" stroke="#000" stroke-width="3.2" stroke-linecap="round"/>
<text x="0" y="0" font-size="60" fill="#000" stroke="#000" stroke-width="0.482" font-weight="normal" font-style="normal" transform="matrix(0.5103 0 0 0.5268 36.88 1269.20)">0</text>
<text x="0" y="0" font-size="60" fill="#000" stroke="#000" stroke-width="0.479" font-weight="normal" font-style="normal" transform="matrix(0.5357 0 0 0.5073 122.89 1296.80)">6</text>
<text x="0" y="0" font-size="60" fill="#000" stroke="#000" stroke-width="0.491" font-weight="normal" font-style="normal" transform="matrix(0.5185 0 0 0.5000 238.64 1296.90)">7</text>
<text x="0" y="0" font-size="60" fill="#000" stroke="#000" stroke-width="0.493" font-weight="normal" font-style="normal" transform="matrix(0.5143 0 0 0.5000 353.06 1296.90)">8</text>
<text x="0" y="0" font-size="60" fill="#000" stroke="#000" stroke-width="0.509" font-weight="normal" font-style="normal" transform="matrix(0.4939 0 0 0.4884 314.80 1326.00)">Weeks</text>
<line x1="115.5" y1="1029.2" x2="115.5" y2="1042.2" stroke="#000" stroke-width="2.5" stroke-linecap="butt"/>
<line x1="109.87" y1="1032.45" x2="121.13" y2="1038.95" stroke="#000" stroke-width="2.5" stroke-linecap="butt"/>
<line x1="109.87" y1="1038.95" x2="121.13" y2="1032.45" stroke="#000" stroke-width="2.5" stroke-linecap="butt"/>
<line x1="140.9" y1="1029.2" x2="140.9" y2="1042.2" stroke="#000" stroke-width="2.5" stroke-linecap="butt"/>
<line x1="135.27" y1="1032.45" x2="146.53" y2="1038.95" stroke="#000" stroke-width="2.5" stroke-linecap="butt"/>
<line x1="135.27" y1="1038.95" x2="146.53" y2="1032.45" stroke="#000" stroke-width="2.5" stroke-linecap="butt"/>
<line x1="229.4" y1="1012.3" x2="229.4" y2="1025.3" stroke="#000" stroke-width="2.5" stroke-linecap="butt"/>
<line x1="223.77" y1="1015.55" x2="235.03" y2="1022.05" stroke="#000" stroke-width="2.5" stroke-linecap="butt"/>
<line x1="223.77" y1="1022.05" x2="235.03" y2="1015.55" stroke="#000" stroke-width="2.5" stroke-linecap="butt"/>
<line x1="254.8" y1="1012.3" x2="254.8" y2="1025.3" stroke="#000" stroke-width="2.5" stroke-linecap="butt"/>
<line x1="249.17" y1="1015.55" x2="260.43" y2="1022.05" stroke="#000" stroke-width="2.5" stroke-linecap="butt"/>
<line x1="249.17" y1="1022.05" x2="260.43" y2="1015.55" stroke="#000" stroke-width="2.5" stroke-linecap="butt"/>
<line x1="346.5" y1="1004" x2="346.5" y2="1017" stroke="#000" stroke-width="2.5" stroke-linecap="butt"/>
<line x1="340.87" y1="1007.25" x2="352.13" y2="1013.75" stroke="#000" stroke-width="2.5" stroke-linecap="butt"/>
<line x1="340.87" y1="1013.75" x2="352.13" y2="1007.25" stroke="#000" stroke-width="2.5" stroke-linecap="butt"/>
<line x1="372" y1="1004" x2="372" y2="1017" stroke="#000" stroke-width="2.5" stroke-linecap="butt"/>
<line x1="366.37" y1="1007.25" x2="377.63" y2="1013.75" stroke="#000" stroke-width="2.5" stroke-linecap="butt"/>
<line x1="366.37" y1="1013.75" x2="377.63" y2="1007.25" stroke="#000" stroke-width="2.5" stroke-linecap="butt"/>
<line x1="168.8" y1="940" x2="193" y2="940" stroke="#000" stroke-width="1.6" stroke-linecap="butt"/>
<circle cx="180.9" cy="940" r="4" fill="#fff" stroke="#000" stroke-width="1.6"/>
<text x="0" y="0" font-size="60" fill="#000" stroke="#000" stroke-width="0.500" font-weight="normal" font-style="normal" transform="matrix(0.4761 0 0 0.5244 195.50 944.90)">WT</text>
<line x1="263.3" y1="940" x2="287.3" y2="940" stroke="#000" stroke-width="1.6" stroke-linecap="butt"/>
<circle cx="275.4" cy="940" r="4" fill="#ff0000" stroke="#000" stroke-width="1.6"/>
<text x="0" y="0" font-size="60" fill="#000" stroke="#000" stroke-width="0.488" font-weight="normal" font-style="normal" transform="matrix(0.5007 0 0 0.5244 287.90 944.90)">Homo</text>
<text x="0" y="0" font-size="60" fill="#000" stroke="#000" stroke-width="0.446" font-weight="normal" font-style="normal" transform="matrix(0.5538 0 0 0.5674 505.94 895.50)">d</text>
<text x="0" y="0" font-size="60" fill="#000" stroke="#000" stroke-width="0.506" font-weight="normal" font-style="normal" transform="matrix(0.5415 0 0 0.4473 568.63 935.43)">(g)</text>
<line x1="682.8" y1="991.7" x2="682.8" y2="1019.1" stroke="#000" stroke-width="1.8" stroke-linecap="butt"/>
<line x1="676.8" y1="992.6" x2="688.8" y2="992.6" stroke="#000" stroke-width="1.8" stroke-linecap="butt"/>
<line x1="839" y1="1016.3" x2="839" y2="1044.4" stroke="#000" stroke-width="1.8" stroke-linecap="butt"/>
<line x1="833" y1="1017.2" x2="845" y2="1017.2" stroke="#000" stroke-width="1.8" stroke-linecap="butt"/>
<rect x="652.5" y="1020" width="60.7" height="243.4" fill="#fff" stroke="#000" stroke-width="1.8"/>
<rect x="808.8" y="1045.3" width="60.4" height="218.1" fill="#ff0000" stroke="#000" stroke-width="1.8"/>
<rect x="603.4" y="965" width="4.2" height="306" fill="#000"/>
<rect x="597" y="1261.4" width="8" height="4" fill="#000"/>
<rect x="597" y="1162.6" width="8" height="4" fill="#000"/>
<rect x="597" y="1063.8" width="8" height="4" fill="#000"/>
<rect x="597" y="965" width="8" height="4" fill="#000"/>
<rect x="597" y="1261.1" width="321" height="4.6" fill="#000"/>
<rect x="603.5" y="1263.4" width="4" height="7.4" fill="#000"/>
<rect x="758.5" y="1263.4" width="4" height="7.4" fill="#000"/>
<rect x="914.1" y="1263.4" width="4" height="7.4" fill="#000"/>
<text x="0" y="0" font-size="60" fill="#000" stroke="#000" stroke-width="0.480" font-weight="normal" font-style="normal" transform="matrix(0.4952 0 0 0.5463 515.31 975.00)">0.015</text>
<text x="0" y="0" font-size="60" fill="#000" stroke="#000" stroke-width="0.500" font-weight="normal" font-style="normal" transform="matrix(0.4616 0 0 0.5390 527.88 1073.50)">0.01</text>
<text x="0" y="0" font-size="60" fill="#000" stroke="#000" stroke-width="0.482" font-weight="normal" font-style="normal" transform="matrix(0.5000 0 0 0.5366 515.00 1172.30)">0.005</text>
<text x="0" y="0" font-size="60" fill="#000" stroke="#000" stroke-width="0.485" font-weight="normal" font-style="normal" transform="matrix(0.5000 0 0 0.5317 559.10 1271.00)">0</text>
<text x="0" y="0" font-size="60" fill="#000" stroke="#000" stroke-width="0.527" font-weight="normal" font-style="normal" transform="matrix(0.4772 0 0 0.4707 667.40 1295.60)">WT</text>
<text x="0" y="0" font-size="60" fill="#000" stroke="#000" stroke-width="0.516" font-weight="normal" font-style="normal" transform="matrix(0.4980 0 0 0.4707 806.51 1295.60)">Homo</text>
</svg>
</body></html>
